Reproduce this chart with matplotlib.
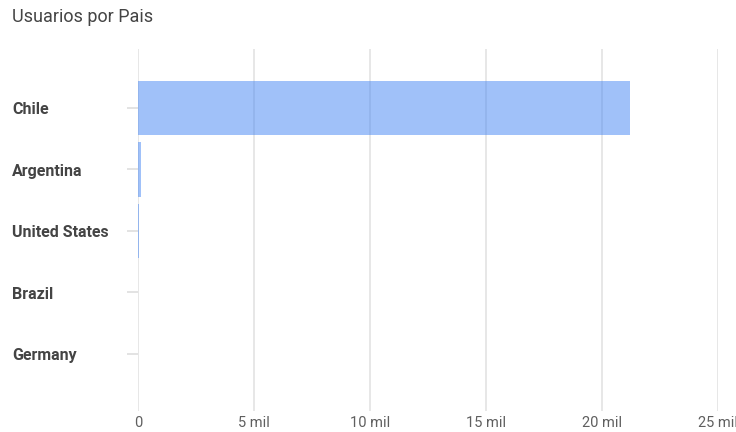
import matplotlib
matplotlib.use("Agg")
import matplotlib.pyplot as plt
import matplotlib.transforms as mtransforms

paises = ["Chile", "Argentina", "United States", "Brazil", "Germany"]
usuarios = [21200, 150, 40, 10, 5]
ticks_x = [0, 5000, 10000, 15000, 20000, 25000]
etiquetas_x = ["0", "5 mil", "10 mil", "15 mil", "20 mil", "25 mil"]

plt.rcParams['font.family'] = ['Roboto', 'DejaVu Sans']

fig = plt.figure(figsize=(7.36, 4.32), dpi=100)
ax = fig.add_axes([0.1875, 0.0486, 0.788, 0.838])

pos = list(range(len(paises)))
ax.barh(pos, usuarios, height=0.89, color="#4285f4", alpha=0.5, zorder=2)

ax.set_xlim(0, 25000)
ax.set_ylim(4.93, -0.96)
ax.set_xticks(ticks_x)
ax.set_xticklabels([])
ax.set_axisbelow(True)
ax.grid(axis="x", color="#e3e3e3", linewidth=1.2)
for s in ax.spines.values():
    s.set_visible(False)
ax.tick_params(axis="x", length=0)
ax.set_yticks(pos)
ax.set_yticklabels([])
ax.tick_params(axis="y", length=8, color="#dedede", width=1.2)

# x labels below the plot area (the last one runs off the figure edge)
for v, t in zip(ticks_x, etiquetas_x):
    ax.annotate(t, xy=(v, 0), xycoords=("data", "axes fraction"),
                xytext=(0, -8.5), textcoords="offset points",
                ha="center", va="center", fontsize=10.5, color="#5f5f5f",
                annotation_clip=False)

# country names aligned to the left edge of the figure
trans = mtransforms.blended_transform_factory(fig.transFigure, ax.transData)
for p, nombre in zip(pos, paises):
    ax.text(12 / 736, p + 0.03, nombre, transform=trans, ha="left", va="center",
            fontsize=11.5, fontweight="bold", color="#444444")

fig.text(12 / 736, 1 - 17 / 432, "Usuarios por Pais", ha="left", va="center",
         fontsize=13, color="#444444")

fig.savefig("out.png", dpi=100)
